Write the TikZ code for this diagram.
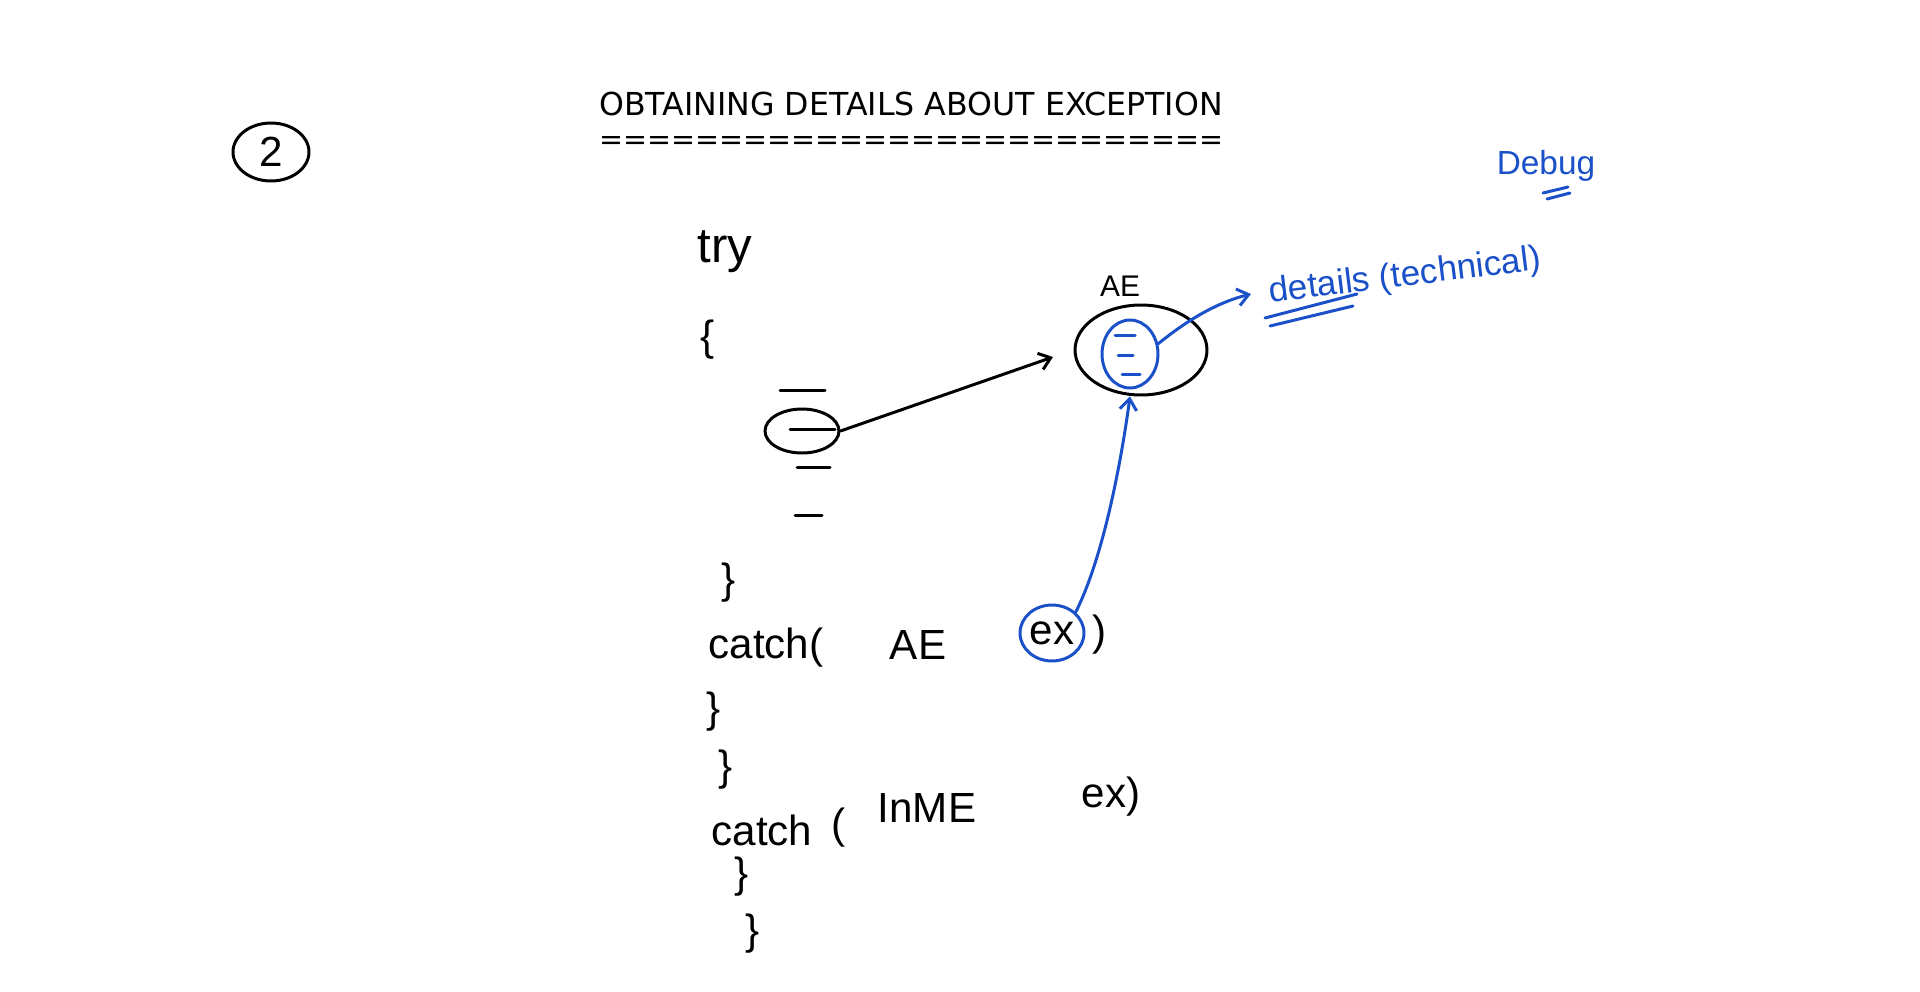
\documentclass[tikz,border=0pt]{standalone}
\usepackage{fontspec}
\setmainfont{DejaVu Sans}
\newfontfamily\handfont{Liberation Sans}
\usetikzlibrary{arrows.meta,calc,shapes.geometric}
\definecolor{cInk}{HTML}{1A50C8}
\tikzset{
  penline/.style={line width=1.7pt, line cap=round, line join=round},
  handtext/.style={font=\handfont\fontsize{24}{26}\selectfont, inner sep=0pt},
  bluetext/.style={handtext, text=cInk},
  blob/.style={ellipse, draw, penline, inner sep=0pt},
  scrawl/.style={-{Straight Barb[length=2.2mm, width=3.4mm]}, penline},
}
\begin{document}
\begin{tikzpicture}[x=0.02cm, y=-0.02cm]
  \useasboundingbox (0,0) rectangle (1920,991);
  \node[blob, handtext, minimum width=1.52cm, minimum height=1.16cm] (page) at (271,152) {2};
  \node[font=\fontsize{18}{20}\selectfont] (title) at (911,104) {OBTAINING DETAILS ABOUT EXCEPTION};
  \node[font=\fontsize{16.3}{18}\selectfont] (rule) at (911,143) {==========================};

  % try block
  \node[handtext, font=\handfont\fontsize{28}{30}\selectfont] (try) at (725,252) {try};
  \node[handtext] (openT) at (708,340) {\{};
  \draw[penline] (780,390) -- (825,390);
  \node[blob, minimum width=1.48cm, minimum height=0.88cm] (stmt) at (802,431) {};
  \draw[penline] (790,429) -- (835,429);
  \draw[penline] (797,467) -- (830,467);
  \draw[penline] (795,515) -- (822,515);
  \node[handtext] (closeT) at (729,583) {\}};

  % catch blocks
  \node[handtext] (catchA) at (766,648) {catch(};
  \node[handtext] (typeA) at (918,645) {AE};
  \node[blob, handtext, draw=cInk, minimum width=1.28cm, minimum height=1.12cm] (exA) at (1052,633) {ex};
  \node[handtext] (parA) at (1100,635) {)};
  \node[handtext] (closeA1) at (714,712) {\}};
  \node[handtext] (closeA2) at (726,770) {\}};
  \node[handtext] (catchB) at (762,830) {catch};
  \node[handtext] (openB) at (839,828) {(};
  \node[handtext] (typeB) at (927,808) {InME};
  \node[handtext] (exB) at (1111,797) {ex)};
  \node[handtext] (closeB1) at (742,877) {\}};
  \node[handtext] (closeB2) at (753,934) {\}};

  % exception object
  \node[handtext, font=\handfont\fontsize{17}{18}\selectfont] (aelabel) at (1120,286) {AE};
  \node[blob, minimum width=2.64cm, minimum height=1.80cm] (aeobj) at (1141,350) {};
  \node[blob, draw=cInk, minimum width=1.12cm, minimum height=1.36cm] (inner) at (1130,354) {};
  \draw[penline, cInk] (1115,335) -- (1135,335);
  \draw[penline, cInk] (1118,355) -- (1133,355);
  \draw[penline, cInk] (1122,374) -- (1140,374);

  \node[bluetext, font=\handfont\fontsize{20}{22}\selectfont, rotate=7] (details) at (1405,277) {details (technical)};
  \draw[penline, cInk] (1265,318) -- (1357,294);
  \draw[penline, cInk] (1270,326) -- (1353,306);
  \node[bluetext, font=\handfont\fontsize{19}{20}\selectfont] (debug) at (1546,166) {Debug};
  \draw[penline, cInk] (1543,193) -- (1568,187);
  \draw[penline, cInk] (1547,199) -- (1570,193);

  \coordinate (tipAE) at (1053,357);
  \coordinate (tipD) at (1251,294);
  \draw[scrawl] (stmt.east) -- (tipAE);
  \draw[scrawl, cInk] (inner.20) .. controls (1185,322) and (1215,303) .. (tipD);
  \draw[scrawl, cInk] (exA.north east) .. controls (1102,560) and (1120,470) .. (aeobj.south -| inner);
\end{tikzpicture}
\end{document}
